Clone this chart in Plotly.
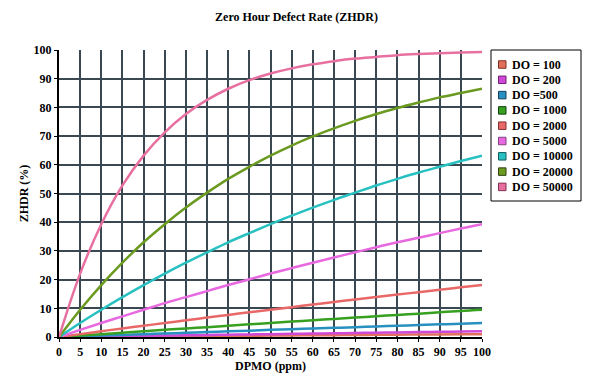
import plotly.graph_objects as go

dpmo = [0, 5, 10, 15, 20, 25, 30, 35, 40, 45, 50, 55, 60, 65, 70, 75, 80, 85, 90, 95, 100]

names = ["DO = 100", "DO = 200", "DO =500", "DO = 1000", "DO = 2000",
         "DO = 5000", "DO = 10000", "DO = 20000", "DO = 50000"]

do_100 = [0, 0.05, 0.1, 0.15, 0.2, 0.25, 0.3, 0.35, 0.4, 0.45, 0.5, 0.55, 0.6, 0.65, 0.7, 0.75, 0.8, 0.85, 0.9, 0.95, 1.0]
do_200 = [0, 0.1, 0.2, 0.3, 0.4, 0.5, 0.6, 0.7, 0.8, 0.9, 1.0, 1.1, 1.2, 1.3, 1.4, 1.5, 1.6, 1.7, 1.8, 1.9, 2.0]
do_500 = [0, 0.25, 0.5, 0.7, 1.0, 1.2, 1.5, 1.7, 2.0, 2.2, 2.5, 2.7, 3.0, 3.2, 3.4, 3.7, 3.9, 4.2, 4.4, 4.6, 4.9]
do_1000 = [0, 0.5, 1.0, 1.5, 2.0, 2.5, 3.0, 3.4, 3.9, 4.4, 4.9, 5.4, 5.8, 6.3, 6.8, 7.2, 7.7, 8.1, 8.6, 9.1, 9.5]
do_2000 = [0, 1.0, 2.0, 3.0, 3.9, 4.9, 5.8, 6.8, 7.7, 8.6, 9.5, 10.4, 11.3, 12.2, 13.1, 13.9, 14.8, 15.6, 16.5, 17.3, 18.1]
do_5000 = [0, 2.5, 4.9, 7.2, 9.5, 11.8, 13.9, 16.0, 18.1, 20.1, 22.1, 24.0, 25.9, 27.7, 29.5, 31.3, 33.0, 34.6, 36.2, 37.8, 39.3]
do_10000 = [0, 4.9, 9.5, 13.9, 18.1, 22.1, 25.9, 29.5, 33.0, 36.2, 39.3, 42.3, 45.1, 47.8, 50.3, 52.8, 55.1, 57.3, 59.3, 61.3, 63.2]
do_20000 = [0, 9.5, 18.1, 25.9, 33.0, 39.3, 45.1, 50.3, 55.1, 59.3, 63.2, 66.7, 69.9, 72.7, 75.3, 77.7, 79.8, 81.7, 83.5, 85.0, 86.5]
do_50000 = [0, 22.1, 39.3, 52.8, 63.2, 71.3, 77.7, 82.6, 86.5, 89.5, 91.8, 93.6, 95.0, 96.1, 97.0, 97.6, 98.2, 98.6, 98.9, 99.1, 99.3]

series = [do_100, do_200, do_500, do_1000, do_2000, do_5000, do_10000, do_20000, do_50000]
colors = ["#E0705C", "#D048D8", "#2890C0", "#38A020", "#E86868",
          "#E868E0", "#28C0C0", "#6A9A20", "#E870A0"]
marker_edges = ["#803020", "#702070", "#104060", "#104010", "#803030",
                "#804080", "#106060", "#304010", "#803050"]

font = "Liberation Serif"
bold = dict(family=font, size=12, color="black", weight="bold")

W, H = 593, 387
L, R, T, B = 59, 111, 50, 50
PW, PH = W - L - R, H - T - B


def px(x):
    return (x - L) / PW


def py(y):
    return (H - B - y) / PH


fig = go.Figure()
for n, s, c in zip(names, series, colors):
    fig.add_trace(go.Scatter(x=dpmo, y=s, mode="lines", line=dict(color=c, width=2.5, shape="spline"),
                             name=n, showlegend=False))

# manual legend
shapes = [dict(type="rect", xref="paper", yref="paper", x0=px(491), x1=px(581), y0=py(201), y1=py(50),
               line=dict(color="black", width=1), fillcolor="white", layer="above")]
annotations = []
for i, (n, c, e) in enumerate(zip(names, colors, marker_edges)):
    cy = 64.5 + i * 15.3
    shapes.append(dict(type="rect", xref="paper", yref="paper", x0=px(498.5), x1=px(506),
                       y0=py(cy + 3.75), y1=py(cy - 3.75), fillcolor=c, line=dict(color=e, width=1),
                       layer="above"))
    annotations.append(dict(xref="paper", yref="paper", x=px(510), y=py(cy), text=n, showarrow=False,
                            xanchor="left", yanchor="middle", font=bold))

fig.update_layout(
    width=W, height=H,
    margin=dict(l=L, r=R, t=T, b=B, autoexpand=False),
    paper_bgcolor="white", plot_bgcolor="white",
    font=bold, showlegend=False,
    shapes=shapes, annotations=annotations,
    title=dict(text="Zero Hour Defect Rate (ZHDR)", x=0.5, xanchor="center", y=1 - 17 / H, yanchor="middle",
               font=bold),
    xaxis=dict(range=[0, 100], dtick=5, showgrid=True, gridcolor="#3a4852", gridwidth=1.5,
               showline=True, linecolor="black", linewidth=2, ticks="outside", ticklen=3,
               tickcolor="black", zeroline=False, automargin=False,
               tickfont=bold,
               title=dict(text="DPMO (ppm)", standoff=2, font=bold)),
    yaxis=dict(range=[0, 100], dtick=10, showgrid=True, gridcolor="#3a4852", gridwidth=1.5,
               showline=True, linecolor="black", linewidth=2, ticks="outside", ticklen=3,
               tickcolor="black", zeroline=False, automargin=False,
               tickfont=bold,
               title=dict(text="ZHDR (%)", standoff=2, font=bold)),
)

fig.write_html("out.html", config={"displayModeBar": False},
               post_script="document.body.style.margin='0';")
